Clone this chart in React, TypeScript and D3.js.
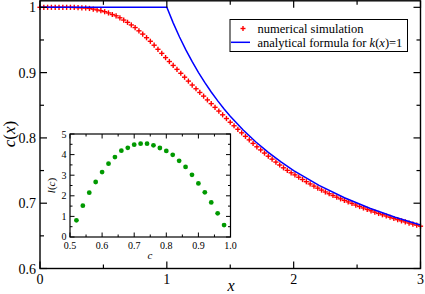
import React from "react";
import * as d3 from "d3";

// Numerical simulation (red +)
const simX: number[] = d3.range(0, 101).map((i) => +(i * 0.03).toFixed(2));
const simC: number[] = [
  1.0, 1.0, 1.0, 1.0, 1.0, 1.0, 1.0, 1.0, 1.0, 0.9998, 0.9995,
  0.9993, 0.999, 0.9983, 0.9973, 0.996, 0.9948, 0.9933, 0.9914, 0.989, 0.987,
  0.984, 0.9805, 0.977, 0.973, 0.969, 0.964, 0.959, 0.9535, 0.948, 0.942,
  0.9357, 0.9295, 0.923, 0.917, 0.911, 0.905, 0.899, 0.893, 0.887, 0.881,
  0.8753, 0.8696, 0.864, 0.8582, 0.8525, 0.8468, 0.8411, 0.8354, 0.8297, 0.824,
  0.8186, 0.8132, 0.8078, 0.8024, 0.797, 0.7916, 0.7864, 0.7816, 0.7768, 0.772,
  0.7675, 0.763, 0.7585, 0.7542, 0.7503, 0.7466, 0.7434, 0.7398, 0.7363, 0.7329,
  0.7295, 0.7262, 0.7231, 0.7201, 0.7172, 0.7145, 0.7118, 0.7092, 0.7067, 0.7043,
  0.702, 0.6996, 0.6972, 0.6949, 0.6927, 0.6905, 0.6884, 0.6863, 0.6843, 0.6823,
  0.6804, 0.6785, 0.6766, 0.6748, 0.673, 0.6713, 0.6696, 0.668, 0.6664, 0.6648,
];

// Analytical formula for k(x)=1 (blue line)
const anaX: number[] = [0, 1.0, 1.05, 1.1, 1.15, 1.2, 1.25, 1.3, 1.35, 1.4, 1.45, 1.5, 1.6, 1.7, 1.8, 1.9, 2.0, 2.2, 2.4, 2.6, 2.8, 3.0];
const anaC: number[] = [1.0, 1.0, 0.9762, 0.9545, 0.9348, 0.9167, 0.9, 0.8846, 0.8704, 0.8571, 0.8448, 0.8333, 0.8125, 0.7941, 0.7778, 0.7632, 0.75, 0.7273, 0.7083, 0.6923, 0.6786, 0.6667];

// Inset l(c)
const insetC: number[] = [0.52, 0.54, 0.56, 0.58, 0.6, 0.62, 0.64, 0.66, 0.68, 0.7, 0.72, 0.74, 0.76, 0.78, 0.8, 0.82, 0.84, 0.86, 0.88, 0.9, 0.92, 0.94, 0.96, 0.98];
const insetL: number[] = [0.81, 1.52, 2.15, 2.67, 3.15, 3.56, 3.88, 4.19, 4.33, 4.48, 4.53, 4.53, 4.45, 4.32, 4.18, 3.99, 3.7, 3.4, 3.02, 2.6, 2.17, 1.68, 1.15, 0.58];

const mainXTicks = [0, 1, 2, 3];
const mainXMinor = [0.5, 1.5, 2.5];
const mainYTicks = [0.6, 0.7, 0.8, 0.9, 1.0];
const mainYMinor = [0.65, 0.75, 0.85, 0.95];
const insetXTicks = [0.5, 0.6, 0.7, 0.8, 0.9, 1.0];
const insetXMinor = [0.55, 0.65, 0.75, 0.85, 0.95];
const insetYTicks = [0, 1, 2, 3, 4, 5];
const insetYMinor = [0.5, 1.5, 2.5, 3.5, 4.5];

const FF = "Liberation Serif";
const CSS = `svg text, svg tspan { font-family: "Liberation Serif", serif !important; }`;

export default function App() {
  const W = 425, H = 294;
  const x = d3.scaleLinear().domain([0, 3]).range([40, 420.5]);
  const y = d3.scaleLinear().domain([0.6, 1.01]).range([268.5, 0.8]);
  const ix = d3.scaleLinear().domain([0.5, 1.0]).range([70, 230.5]);
  const iy = d3.scaleLinear().domain([0, 5]).range([237, 134]);

  const line = d3.line<number>().x((_, i) => x(anaX[i])).y((d) => y(d));
  const bluePath = line(anaC) || "";

  const [x0, x1] = x.range();
  const [y0, y1] = y.range();
  const [ix0, ix1] = ix.range();
  const [iy0, iy1] = iy.range();
  const MAJ = 7, MIN = 4, IMAJ = 4.5, IMIN = 2.5;

  return (
    <svg width={W} height={H} fontFamily={FF} style={{ position: "absolute", left: 0, top: 0, background: "#fff" }}>
      <style>{CSS}</style>
      <rect x={0} y={0} width={W} height={H} fill="#fff" />
      {/* main curves */}
      <g stroke="#ff0000" strokeWidth={1.4}>
        {simC.map((c, i) => {
          const px = x(simX[i]), py = y(c);
          return (
            <g key={i}>
              <line x1={px - 2.6} x2={px + 2.6} y1={py} y2={py} />
              <line x1={px} x2={px} y1={py - 2.6} y2={py + 2.6} />
            </g>
          );
        })}
      </g>
      <path d={bluePath} fill="none" stroke="#0000ff" strokeWidth={1.5} />

      {/* main frame */}
      <rect x={x0} y={y1} width={x1 - x0} height={y0 - y1} fill="none" stroke="#000" strokeWidth={1.4} />
      <g stroke="#000" strokeWidth={1.2}>
        {mainXTicks.map((t) => (
          <g key={"mx" + t}>
            <line x1={x(t)} x2={x(t)} y1={y0} y2={y0 - MAJ} />
            <line x1={x(t)} x2={x(t)} y1={y1} y2={y1 + MAJ} />
          </g>
        ))}
        {mainXMinor.map((t) => (
          <g key={"mxm" + t}>
            <line x1={x(t)} x2={x(t)} y1={y0} y2={y0 - MIN} />
            <line x1={x(t)} x2={x(t)} y1={y1} y2={y1 + MIN} />
          </g>
        ))}
        {mainYTicks.map((t) => (
          <g key={"my" + t}>
            <line x1={x0} x2={x0 + MAJ} y1={y(t)} y2={y(t)} />
            <line x1={x1} x2={x1 - MAJ} y1={y(t)} y2={y(t)} />
          </g>
        ))}
        {mainYMinor.map((t) => (
          <g key={"mym" + t}>
            <line x1={x0} x2={x0 + MIN} y1={y(t)} y2={y(t)} />
            <line x1={x1} x2={x1 - MIN} y1={y(t)} y2={y(t)} />
          </g>
        ))}
      </g>
      <g fontSize={14} fill="#000">
        {mainXTicks.map((t) => (
          <text key={"lx" + t} fontFamily={FF} x={x(t)} y={283.5} textAnchor="middle">{t}</text>
        ))}
        {mainYTicks.map((t) => (
          <text key={"ly" + t} fontFamily={FF} x={36} y={y(t) + 5} textAnchor="end">{t === 1 ? "1" : t.toFixed(1)}</text>
        ))}
      </g>
      <text fontFamily={FF} x={231} y={290.5} fontSize={16} fontStyle="italic" textAnchor="middle">x</text>
      <text fontFamily={FF} transform={`translate(15,134) rotate(-90)`} fontSize={17} textAnchor="middle">
        <tspan fontStyle="italic">c</tspan>(<tspan fontStyle="italic">x</tspan>)
      </text>

      {/* legend */}
      <rect x={230} y={19.5} width={177.5} height={32} fill="#fff" stroke="#000" strokeWidth={1} />
      <g stroke="#ff0000" strokeWidth={1.4}>
        <line x1={240.5} x2={245.5} y1={28.5} y2={28.5} />
        <line x1={243} x2={243} y1={26} y2={31} />
      </g>
      <line x1={231} x2={250} y1={42.3} y2={42.3} stroke="#0000ff" strokeWidth={1.5} />
      <text fontFamily={FF} x={257.5} y={32.5} fontSize={12.5}>numerical simulation</text>
      <text fontFamily={FF} x={257.5} y={46.5} fontSize={12.5}>
        analytical formula for <tspan fontStyle="italic">k</tspan>(<tspan fontStyle="italic">x</tspan>)=1
      </text>

      {/* inset */}
      <rect x={ix0} y={iy1} width={ix1 - ix0} height={iy0 - iy1} fill="#fff" stroke="#000" strokeWidth={1.2} />
      <g fill="#009900">
        {insetL.map((l, i) => (
          <circle key={i} cx={ix(insetC[i])} cy={iy(l)} r={2.4} />
        ))}
      </g>
      <g stroke="#000" strokeWidth={1}>
        {insetXTicks.map((t) => (
          <g key={"ix" + t}>
            <line x1={ix(t)} x2={ix(t)} y1={iy0} y2={iy0 - IMAJ} />
            <line x1={ix(t)} x2={ix(t)} y1={iy1} y2={iy1 + IMAJ} />
          </g>
        ))}
        {insetXMinor.map((t) => (
          <g key={"ixm" + t}>
            <line x1={ix(t)} x2={ix(t)} y1={iy0} y2={iy0 - IMIN} />
            <line x1={ix(t)} x2={ix(t)} y1={iy1} y2={iy1 + IMIN} />
          </g>
        ))}
        {insetYTicks.map((t) => (
          <g key={"iy" + t}>
            <line x1={ix0} x2={ix0 + IMAJ} y1={iy(t)} y2={iy(t)} />
            <line x1={ix1} x2={ix1 - IMAJ} y1={iy(t)} y2={iy(t)} />
          </g>
        ))}
        {insetYMinor.map((t) => (
          <g key={"iym" + t}>
            <line x1={ix0} x2={ix0 + IMIN} y1={iy(t)} y2={iy(t)} />
            <line x1={ix1} x2={ix1 - IMIN} y1={iy(t)} y2={iy(t)} />
          </g>
        ))}
      </g>
      <g fontSize={10} fill="#000">
        {insetXTicks.map((t) => (
          <text key={"ilx" + t} fontFamily={FF} x={ix(t)} y={249} textAnchor="middle">{t.toFixed(1)}</text>
        ))}
        {insetYTicks.map((t) => (
          <text key={"ily" + t} fontFamily={FF} x={66.5} y={iy(t) + (t === 0 ? 2.5 : 3.5)} textAnchor="end">{t}</text>
        ))}
      </g>
      <text fontFamily={FF} x={150} y={259} fontSize={11} fontStyle="italic" textAnchor="middle">c</text>
      <text fontFamily={FF} transform={`translate(55,${(iy0 + iy1) / 2}) rotate(-90)`} fontSize={11} textAnchor="middle">
        <tspan fontStyle="italic">l</tspan>(<tspan fontStyle="italic">c</tspan>)
      </text>
    </svg>
  );
}
